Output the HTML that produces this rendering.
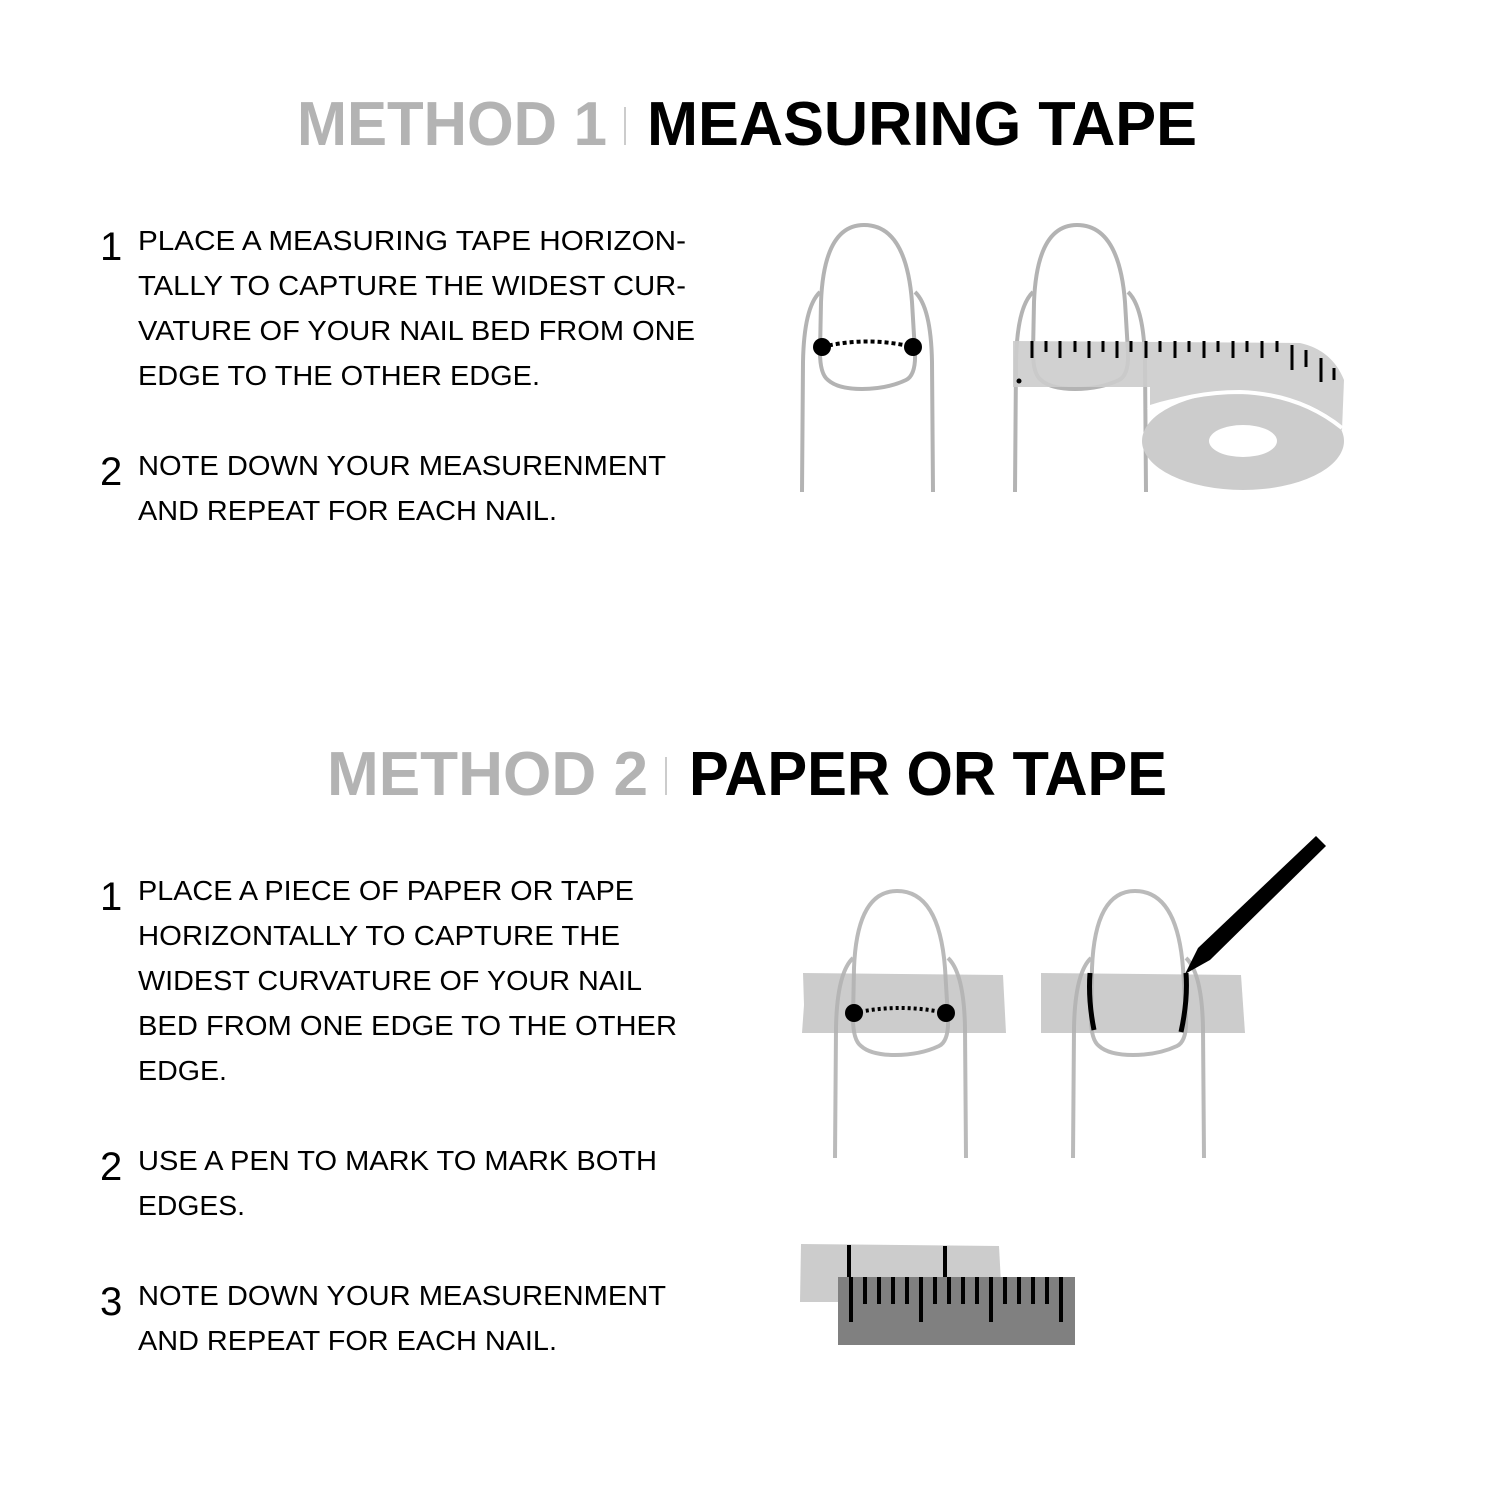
<!DOCTYPE html>
<html><head><meta charset="utf-8"><style>body{margin:0;background:#fff}svg{display:block}</style></head>
<body>
<svg width="1500" height="1500" viewBox="0 0 1500 1500" xmlns="http://www.w3.org/2000/svg" font-family="Liberation Sans, sans-serif">
<rect width="1500" height="1500" fill="#fff"/>
<g font-weight="bold" font-size="62">
<text x="297" y="145" fill="#b3b3b3" textLength="310" lengthAdjust="spacingAndGlyphs">METHOD 1</text>
<text x="647" y="145" fill="#000" textLength="550" lengthAdjust="spacingAndGlyphs">MEASURING TAPE</text>
<text x="327" y="795" fill="#b3b3b3" textLength="321" lengthAdjust="spacingAndGlyphs">METHOD 2</text>
<text x="689" y="795" fill="#000" textLength="478" lengthAdjust="spacingAndGlyphs">PAPER OR TAPE</text>
</g>
<rect x="624" y="107" width="2" height="38" fill="#ccc"/>
<rect x="665" y="757" width="2" height="38" fill="#ccc"/>
<g font-size="40" fill="#000">
<text x="100" y="260">1</text><text x="100" y="485">2</text>
<text x="100" y="910">1</text><text x="100" y="1180">2</text><text x="100" y="1315">3</text>
</g>
<g font-size="28" fill="#000">
<text x="138" y="250" textLength="548" lengthAdjust="spacingAndGlyphs">PLACE A MEASURING TAPE HORIZON-</text>
<text x="138" y="295" textLength="548" lengthAdjust="spacingAndGlyphs">TALLY TO CAPTURE THE WIDEST CUR-</text>
<text x="138" y="340" textLength="557" lengthAdjust="spacingAndGlyphs">VATURE OF YOUR NAIL BED FROM ONE</text>
<text x="138" y="385" textLength="402" lengthAdjust="spacingAndGlyphs">EDGE TO THE OTHER EDGE.</text>
<text x="138" y="475" textLength="528" lengthAdjust="spacingAndGlyphs">NOTE DOWN YOUR MEASURENMENT</text>
<text x="138" y="520" textLength="419" lengthAdjust="spacingAndGlyphs">AND REPEAT FOR EACH NAIL.</text>
<text x="138" y="900" textLength="496" lengthAdjust="spacingAndGlyphs">PLACE A PIECE OF PAPER OR TAPE</text>
<text x="138" y="945" textLength="482" lengthAdjust="spacingAndGlyphs">HORIZONTALLY TO CAPTURE THE</text>
<text x="138" y="990" textLength="504" lengthAdjust="spacingAndGlyphs">WIDEST CURVATURE OF YOUR NAIL</text>
<text x="138" y="1035" textLength="539" lengthAdjust="spacingAndGlyphs">BED FROM ONE EDGE TO THE OTHER</text>
<text x="138" y="1080" textLength="89" lengthAdjust="spacingAndGlyphs">EDGE.</text>
<text x="138" y="1170" textLength="519" lengthAdjust="spacingAndGlyphs">USE A PEN TO MARK TO MARK BOTH</text>
<text x="138" y="1215" textLength="107" lengthAdjust="spacingAndGlyphs">EDGES.</text>
<text x="138" y="1305" textLength="528" lengthAdjust="spacingAndGlyphs">NOTE DOWN YOUR MEASURENMENT</text>
<text x="138" y="1350" textLength="419" lengthAdjust="spacingAndGlyphs">AND REPEAT FOR EACH NAIL.</text>
</g>

<defs>
<g id="finger" fill="none" stroke="#b3b3b3" stroke-width="4">
<path d="M0 0 L1 -130 Q2 -185 18 -200"/>
<path d="M131 0 L130 -130 Q129 -185 113 -200"/>
<path d="M18 -140 L19 -190 Q22 -267 62 -267 Q104 -267 110 -190 L113 -140 Q114 -117 104 -112 Q85 -103 60 -103 Q36 -103 26 -112 Q18 -118 18 -140 Z"/>
</g>
</defs>

<use href="#finger" x="802" y="492"/>
<path d="M822 347 Q867 336 913 347" fill="none" stroke="#000" stroke-width="4" stroke-dasharray="4 3"/>
<circle cx="822" cy="347" r="9" fill="#000"/>
<circle cx="913" cy="347" r="9" fill="#000"/>

<use href="#finger" x="1015" y="492"/>
<ellipse cx="1243" cy="441" rx="101" ry="49" fill="#ccc"/>
<path d="M1150 410 Q1180 390 1240 390 Q1300 392 1343 425 L1343 400 Q1320 375 1300 372 L1150 372 Z" fill="#fff"/>
<ellipse cx="1243" cy="441" rx="34" ry="16" fill="#fff"/>
<path d="M1150 405 Q1190 392 1240 393 Q1300 395 1342 430 L1344 380 Q1332 350 1300 343 L1013 341 L1013 387 L1150 387 Z" fill="#ccc" opacity="0.9"/>
<path d="M1148 410 Q1190 392 1240 392 Q1300 394 1342 428" fill="none" stroke="#fff" stroke-width="4"/>
<g stroke="#000" stroke-width="3">
<line x1="1032" y1="341" x2="1032" y2="358"/><line x1="1046" y1="341" x2="1046" y2="352"/>
<line x1="1060" y1="341" x2="1060" y2="358"/><line x1="1075" y1="341" x2="1075" y2="352"/>
<line x1="1089" y1="341" x2="1089" y2="358"/><line x1="1103" y1="341" x2="1103" y2="352"/>
<line x1="1117" y1="341" x2="1117" y2="358"/><line x1="1131" y1="341" x2="1131" y2="352"/>
<line x1="1146" y1="341" x2="1146" y2="358"/><line x1="1160" y1="341" x2="1160" y2="352"/>
<line x1="1175" y1="341" x2="1175" y2="358"/><line x1="1189" y1="341" x2="1189" y2="352"/>
<line x1="1204" y1="341" x2="1204" y2="358"/><line x1="1218" y1="341" x2="1218" y2="352"/>
<line x1="1233" y1="341" x2="1233" y2="358"/><line x1="1247" y1="341" x2="1247" y2="352"/>
<line x1="1262" y1="341" x2="1262" y2="358"/><line x1="1277" y1="341" x2="1277" y2="352"/>
<line x1="1292" y1="345" x2="1292" y2="370"/><line x1="1306" y1="350" x2="1306" y2="367"/>
<line x1="1321" y1="358" x2="1321" y2="382"/><line x1="1334" y1="368" x2="1334" y2="380"/>
</g>
<circle cx="1019" cy="381" r="2.5" fill="#000"/>

<path d="M803 973 L1003 975 L1006 1033 L802 1033 L804 1005 Z" fill="#ccc"/>
<use href="#finger" x="835" y="1158" opacity="0.9"/>
<path d="M854 1013 Q900 1003 946 1013" fill="none" stroke="#000" stroke-width="4" stroke-dasharray="3 3"/>
<circle cx="854" cy="1013" r="9" fill="#000"/>
<circle cx="946" cy="1013" r="9" fill="#000"/>

<path d="M1041 973 L1241 975 L1245 1033 L1041 1033 Z" fill="#ccc"/>
<use href="#finger" x="1073" y="1158" opacity="0.9"/>
<path d="M1090 973 Q1088 1000 1094 1030" fill="none" stroke="#000" stroke-width="5"/>
<path d="M1186 973 Q1188 1000 1181 1032" fill="none" stroke="#000" stroke-width="5"/>
<path d="M1185 974 L1198 948 L1316 836 L1326 846 L1210 960 Z" fill="#000"/>

<path d="M801 1244 L999 1246 L1002 1302 L800 1302 Z" fill="#ccc"/>
<rect x="838" y="1277" width="237" height="68" fill="#808080"/>
<g stroke="#000" stroke-width="4">
<line x1="849" y1="1245" x2="849" y2="1277"/>
<line x1="945" y1="1246" x2="945" y2="1277"/>
<line x1="851" y1="1277" x2="851" y2="1322"/><line x1="865" y1="1277" x2="865" y2="1304"/>
<line x1="879" y1="1277" x2="879" y2="1304"/><line x1="893" y1="1277" x2="893" y2="1304"/>
<line x1="907" y1="1277" x2="907" y2="1304"/><line x1="921" y1="1277" x2="921" y2="1322"/>
<line x1="935" y1="1277" x2="935" y2="1304"/><line x1="949" y1="1277" x2="949" y2="1304"/>
<line x1="963" y1="1277" x2="963" y2="1304"/><line x1="977" y1="1277" x2="977" y2="1304"/>
<line x1="991" y1="1277" x2="991" y2="1322"/><line x1="1005" y1="1277" x2="1005" y2="1304"/>
<line x1="1019" y1="1277" x2="1019" y2="1304"/><line x1="1033" y1="1277" x2="1033" y2="1304"/>
<line x1="1047" y1="1277" x2="1047" y2="1304"/><line x1="1061" y1="1277" x2="1061" y2="1322"/>
</g>
</svg>
</body></html>
